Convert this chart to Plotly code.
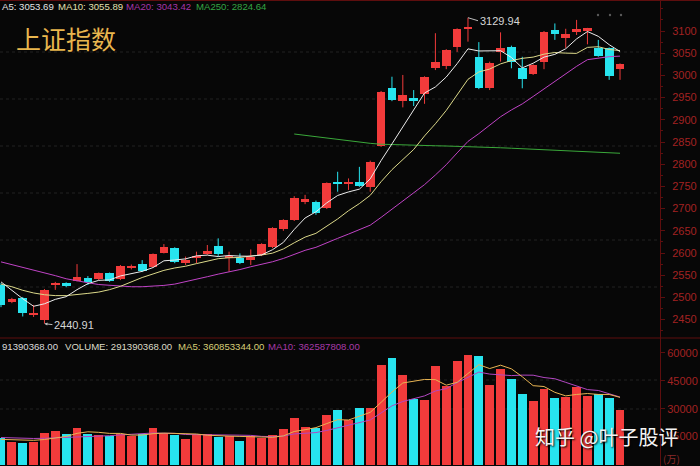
import plotly.graph_objects as go

W, H = 700, 466

# ---------------- data ----------------
days = list(range(58))
opens = [2528, 2490, 2499, 2462, 2448, 2528, 2532, 2538, 2543, 2541,
         2554, 2541, 2567, 2575, 2569, 2601, 2611, 2577, 2588, 2598,
         2616, 2590, 2588, 2584, 2595, 2613, 2654, 2674, 2716, 2716,
         2701, 2761, 2757, 2761, 2749, 2841, 2971, 2943, 2950, 2958,
         3017, 3021, 3063, 3105, 3042, 2971, 3053, 3065, 3017, 3003,
         3031, 3102, 3085, 3097, 3102, 3062, 3061, 3014]
highs = [2532, 2499, 2501, 2483, 2519, 2535, 2534, 2575, 2548, 2556,
         2556, 2573, 2574, 2584, 2599, 2620, 2613, 2592, 2603, 2618,
         2633, 2603, 2599, 2608, 2622, 2658, 2676, 2728, 2731, 2718,
         2759, 2783, 2768, 2794, 2808, 2965, 2997, 3001, 2967, 2998,
         3095, 3059, 3106, 3129.94, 3075, 3031, 3097, 3067, 3042, 3025,
         3100, 3117, 3105, 3125, 3107, 3080, 3063, 3027]
lows = [2478, 2487, 2457, 2456, 2440.91, 2517, 2523, 2536, 2528, 2539,
        2535, 2539, 2563, 2557, 2567, 2599, 2577, 2573, 2577, 2596,
        2593, 2558, 2575, 2573, 2593, 2611, 2650, 2672, 2710, 2686,
        2699, 2738, 2742, 2749, 2738, 2839, 2942, 2928, 2931, 2936,
        3012, 3014, 3053, 3076, 2969, 2967, 3031, 3016, 2971, 3001,
        3014, 3080, 3062, 3091, 3070, 3042, 2990, 2990]
closes = [2483, 2496, 2466, 2466, 2517, 2533, 2526, 2545, 2534, 2554,
          2538, 2571, 2571, 2559, 2597, 2614, 2580, 2584, 2593, 2605,
          2598, 2593, 2577, 2592, 2620, 2656, 2674, 2723, 2721, 2690,
          2757, 2756, 2761, 2752, 2806, 2963, 2945, 2956, 2942, 2996,
          3031, 3057, 3104, 3110, 2971, 3029, 3062, 3030, 2993, 3023,
          3098, 3093, 3093, 3104, 3106, 3044, 2999, 3025]
# volume in 万 (10k shares)
volumes = [14100, 12300, 11400, 12300, 17100, 18200, 16400, 19800, 16400, 15700,
           15300, 16400, 15300, 16400, 19500, 16800, 15900, 13600, 16200, 16200,
           15000, 15300, 12800, 15300, 14100, 15700, 18900, 24800, 20000, 19800,
           26600, 29300, 23900, 30200, 30200, 53500, 57100, 48100, 35200, 34700,
           53000, 42200, 55800, 58900, 58300, 42700, 51200, 46000, 37700, 34300,
           40400, 35600, 36500, 41500, 36800, 37900, 35600, 29139]

ma5 = [2535, 2515, 2497, 2480, 2485.6, 2495.6, 2501.6, 2517.4, 2531, 2538.4,
       2539.4, 2548.4, 2553.6, 2558.6, 2567.2, 2582.4, 2584.2, 2586.8, 2593.6, 2595.2,
       2592, 2594.4, 2593, 2592.8, 2595.8, 2607.4, 2623.8, 2653, 2678.8, 2692.8,
       2713, 2729.6, 2737.6, 2743.8, 2767, 2808.2, 2845.8, 2884.4, 2922.6, 2960.4,
       2974, 2996.4, 3026.4, 3059.8, 3055, 3054.6, 3055.6, 3040.4, 3017, 3027.4,
       3041.2, 3047.4, 3060, 3082.2, 3098.8, 3088, 3069.2, 3053.69]
ma10 = [2530, 2524, 2516, 2510, 2506, 2504, 2504, 2506, 2509, 2512,
        2517.5, 2525, 2535.5, 2544.8, 2552.8, 2560.9, 2566.3, 2570.2, 2576.1, 2581.2,
        2587.2, 2589.3, 2589.9, 2593.2, 2595.5, 2599.7, 2609.1, 2623, 2635.8, 2644.3,
        2660.2, 2676.7, 2695.3, 2711.3, 2729.9, 2760.6, 2787.7, 2811, 2833.2, 2863.7,
        2891.1, 2921.1, 2955.4, 2991.2, 3007.7, 3014.3, 3026, 3033.4, 3038.4, 3041.2,
        3047.9, 3051.5, 3050.2, 3049.6, 3063.1, 3064.6, 3058.3, 3055.89]
ma20 = [2580, 2574, 2568, 2562, 2555, 2549, 2542, 2537, 2533, 2529,
        2527, 2525, 2524, 2524, 2525, 2527, 2530, 2535, 2541, 2546.6,
        2552.4, 2557.2, 2562.7, 2569, 2574.2, 2580.3, 2587.7, 2596.6, 2606, 2612.8,
        2623.7, 2633, 2642.6, 2652.3, 2662.7, 2680.2, 2698.4, 2717, 2734.5, 2754,
        2775.7, 2798.9, 2825.4, 2851.3, 2868.8, 2887.5, 2906.9, 2922.2, 2935.8, 2952.5,
        2969.5, 2986.3, 3002.8, 3020.4, 3035.4, 3039.5, 3042.2, 3043.42]
ma250 = [None] * 27 + [2868, 2865, 2861, 2858, 2855, 2852, 2849, 2847, 2845, 2844,
                       2843, 2842.5, 2842, 2841.5, 2841, 2840.5, 2840, 2839, 2838, 2837,
                       2836, 2835, 2834, 2833, 2832, 2831, 2830, 2829, 2828, 2826.5,
                       2824.64]
vol_ma5 = [13500, 13200, 12900, 13000, 13440, 14260, 15080, 16760, 17580, 17300,
           16720, 16720, 15820, 15820, 16580, 16880, 16780, 16440, 16400, 15740,
           15380, 15260, 15100, 14920, 14500, 14640, 15360, 17760, 18700, 19840,
           22020, 24100, 23920, 25960, 28040, 33420, 38980, 43820, 44820, 45720,
           45620, 42640, 44180, 48920, 53640, 51580, 53380, 51420, 47180, 42380,
           41920, 38800, 36900, 37660, 38160, 37660, 37660, 36085]
vol_ma10 = [14500, 14300, 14100, 14000, 14100, 14300, 14600, 14900, 15100, 15370,
            15490, 15900, 16290, 16700, 16940, 16800, 16750, 16130, 16110, 16160,
            16130, 16020, 15770, 15660, 15120, 15010, 15310, 16430, 16810, 17170,
            18330, 19730, 20840, 22330, 23940, 27720, 31540, 33870, 35390, 36880,
            39520, 40810, 44000, 46870, 49680, 48600, 48010, 47800, 48050, 48010,
            46750, 46090, 44160, 42420, 40270, 39790, 38230, 36259]

price_ticks = [3100, 3050, 3000, 2950, 2900, 2850, 2800, 2750, 2700, 2650, 2600, 2550, 2500, 2450]
vol_ticks = [60000, 45000, 30000, 15000]

# ---------------- style ----------------
BG = "#070707"
RED = "#f23b3b"
CYAN = "#27e4ef"
AXIS_RED = "#5e0e0e"
LABEL_RED = "#a32222"
FONT = "Liberation Sans, Arial, sans-serif"
CJK = "Noto Sans CJK SC, sans-serif"

def px_x(p):
    return p / W

def px_y(p):
    return 1 - p / H

split = 338  # pixel row of price/volume separator
dom_split = 1 - split / H

up = [c >= o for o, c in zip(opens, closes)]
colors = [RED if u else CYAN for u in up]

fig = go.Figure()

# wicks
for flag, col in ((True, RED), (False, CYAN)):
    wx, wy = [], []
    for i, d in enumerate(days):
        if up[i] == flag:
            wx += [d, d, None]
            wy += [lows[i], highs[i], None]
    fig.add_trace(go.Scatter(x=wx, y=wy, mode="lines", line=dict(color=col, width=1),
                             xaxis="x", yaxis="y", hoverinfo="skip", showlegend=False))

# bodies
base = [min(o, c) for o, c in zip(opens, closes)]
height = [max(abs(c - o), 2.5) for o, c in zip(opens, closes)]
fig.add_trace(go.Bar(x=days, y=height, base=base, width=0.8,
                     marker=dict(color=colors, line=dict(width=0)),
                     xaxis="x", yaxis="y", showlegend=False))

# MAs
fig.add_trace(go.Scatter(x=days, y=ma250, mode="lines", line=dict(color="#3aa83a", width=1),
                         xaxis="x", yaxis="y", showlegend=False))
fig.add_trace(go.Scatter(x=days, y=ma20, mode="lines", line=dict(color="#c043c6", width=1),
                         xaxis="x", yaxis="y", showlegend=False))
fig.add_trace(go.Scatter(x=days, y=ma10, mode="lines", line=dict(color="#dcd98a", width=1),
                         xaxis="x", yaxis="y", showlegend=False))
fig.add_trace(go.Scatter(x=days, y=ma5, mode="lines", line=dict(color="#ececec", width=1),
                         xaxis="x", yaxis="y", showlegend=False))

# volume
fig.add_trace(go.Bar(x=days, y=volumes, width=0.82,
                     marker=dict(color=colors, line=dict(width=0)),
                     xaxis="x2", yaxis="y2", showlegend=False))
fig.add_trace(go.Scatter(x=days, y=vol_ma10, mode="lines", line=dict(color="#b247c2", width=1),
                         xaxis="x2", yaxis="y2", showlegend=False))
fig.add_trace(go.Scatter(x=days, y=vol_ma5, mode="lines", line=dict(color="#e8b452", width=1),
                         xaxis="x2", yaxis="y2", showlegend=False))

xr = [-1 / 10.86, -1 / 10.86 + 660 / 10.86]
xdom = [0, 660 / W]

axis_common = dict(showgrid=False, zeroline=False, side="right", showline=False,
                   ticks="outside", ticklen=4, tickcolor=AXIS_RED, tickwidth=1,
                   tickfont=dict(family=FONT, size=11, color=LABEL_RED))

fig.update_layout(
    width=W, height=H,
    margin=dict(l=0, r=0, t=0, b=0),
    paper_bgcolor=BG, plot_bgcolor=BG,
    barmode="overlay",
    bargap=0,
    showlegend=False,
    xaxis=dict(domain=xdom, range=xr, visible=False, anchor="y"),
    xaxis2=dict(domain=xdom, range=xr, visible=False, anchor="y2", matches="x"),
    yaxis=dict(domain=[dom_split, 1], range=[3100 - 307 / 0.444, 3100 + 31 / 0.444],
               tickvals=price_ticks, ticktext=[str(t) for t in price_ticks],
               ticklabelstandoff=5, anchor="x",
               minor=dict(ticks="outside", ticklen=2, dtick=25, tick0=2425, tickcolor=AXIS_RED),
               **axis_common),
    yaxis2=dict(domain=[0, dom_split], range=[-800, 68000],
                tickvals=vol_ticks, ticktext=[str(t) for t in vol_ticks],
                ticklabelstandoff=0, anchor="x2",
                **axis_common),
)

# frame lines
shapes = []
shapes.append(dict(type="line", xref="paper", yref="paper", x0=0, x1=1,
                   y0=px_y(0.5), y1=px_y(0.5), line=dict(color=AXIS_RED, width=1)))
shapes.append(dict(type="line", xref="paper", yref="paper", x0=0, x1=1,
                   y0=dom_split, y1=dom_split, line=dict(color=AXIS_RED, width=1)))
shapes.append(dict(type="line", xref="paper", yref="paper", x0=px_x(660.5), x1=px_x(660.5),
                   y0=0, y1=1, line=dict(color=AXIS_RED, width=1)))
# faint dotted grid
for gy in (52, 99, 146, 193, 240, 287, 380, 409):
    shapes.append(dict(type="line", xref="paper", yref="paper", x0=0, x1=px_x(659),
                       y0=px_y(gy), y1=px_y(gy), line=dict(color="#232323", width=1, dash="dot"),
                       layer="below"))
# small grey dots top right
for dx in (598, 610, 621):
    shapes.append(dict(type="circle", xref="paper", yref="paper",
                       x0=px_x(dx - 1.2), x1=px_x(dx + 1.2), y0=px_y(16.2), y1=px_y(13.8),
                       line=dict(width=0), fillcolor="#5a5a5a"))
fig.update_layout(shapes=shapes)

ann = []

def txt(x, y, s, color, size=10, family=FONT, **kw):
    ann.append(dict(xref="paper", yref="paper", x=px_x(x), y=px_y(y), text=s,
                    showarrow=False, xanchor=kw.pop("xanchor", "left"), yanchor="middle",
                    font=dict(family=family, size=size, color=color), **kw))

# header of price panel
txt(0, 7, "A5: 3053.69", "#e4e4e4", size=9.6)
txt(56, 7, "MA10: 3055.89", "#e2e0b0", size=9.6)
txt(124, 7, "MA20: 3043.42", "#a636a8", size=9.6)
txt(194, 7, "MA250: 2824.64", "#34a544", size=9.6)
# title
txt(14, 38, "上证指数", "#e9b64e", size=25, family=CJK)
# volume header
txt(0, 346, "91390368.00", "#dcdcdc", size=9.6)
txt(63, 346, "VOLUME: 291390368.00", "#dcdcc8", size=9.6)
txt(176, 346, "MA5: 360853344.00", "#d8cf78", size=9.6)
txt(266, 346, "MA10: 362587808.00", "#a83aa8", size=9.6)
# unit
txt(661, 458, "(万)", "#8a2a2a", size=10, family=CJK)
# watermark
ann.append(dict(xref="paper", yref="paper", x=px_x(606), y=px_y(436), text="知乎 @叶子股评",
                showarrow=False, xanchor="center", yanchor="middle",
                font=dict(family=CJK, size=20, color="#f4f4f4", shadow="1px 1px 2px #000")))
# high / low marks
ann.append(dict(xref="x", yref="y", x=43, y=3129.94, text="3129.94", showarrow=True,
                ax=10, ay=3, xanchor="left", yanchor="middle", arrowhead=0, arrowwidth=1,
                arrowcolor="#bdbdbd", standoff=0,
                font=dict(family=FONT, size=11, color="#d6d6d6")))
ann.append(dict(xref="x", yref="y", x=4, y=2440.91, text="2440.91", showarrow=True,
                ax=8, ay=1, xanchor="left", yanchor="middle", arrowhead=2, arrowsize=0.6,
                arrowwidth=1, arrowcolor="#bdbdbd", standoff=0,
                font=dict(family=FONT, size=11, color="#d6d6d6")))
fig.update_layout(annotations=ann)

fig.write_html(
    "out.html",
    config={"displayModeBar": False},
    post_script="document.body.style.margin='0';document.body.style.padding='0';"
                "document.body.style.background='#070707';document.body.style.overflow='hidden';",
)
